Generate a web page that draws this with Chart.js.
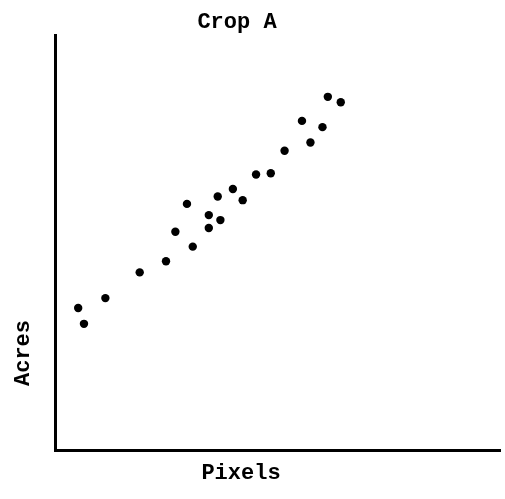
<!DOCTYPE html>
<html>
<head>
<meta charset="utf-8">
<script src="https://cdn.jsdelivr.net/npm/chart.js@4"></script>
<style>
  html, body { margin: 0; padding: 0; background: #fff; }
  #wrap { position: relative; width: 505px; height: 499px; }
  .lbl { position: absolute; font-family: "Liberation Mono", "DejaVu Sans Mono", monospace; font-weight: bold; font-size: 22px; color: #000; line-height: 1; white-space: nowrap; }
  #ttl { left: 237px; top: 12px; transform: translateX(-50%); }
  #xl { left: 241px; top: 463px; transform: translateX(-50%); }
  #yl { left: 24px; top: 353px; transform: translate(-50%, -50%) rotate(-90deg); }
</style>
</head>
<body>
<div id="wrap">
  <canvas id="scatter"></canvas>
  <div class="lbl" id="ttl">Crop A</div>
  <div class="lbl" id="xl">Pixels</div>
  <div class="lbl" id="yl">Acres</div>
</div>
<script>
// values, axes have no ticks so units are 0-100 of the axis length
var pixels = [5.2, 6.5, 11.3, 19.0, 24.9, 27.0, 29.6, 30.9, 34.5, 34.5, 37.1,
              36.5, 39.9, 42.1, 45.1, 48.4, 51.5, 55.4, 57.3, 60.0, 61.2, 64.1];
var acres = [34.2, 30.4, 36.6, 42.8, 45.5, 52.6, 59.3, 49.0, 56.6, 53.5, 55.4,
             61.1, 62.9, 60.2, 66.4, 66.7, 72.1, 79.3, 74.1, 77.8, 85.1, 83.8];

var pts = pixels.map(function (x, i) {
    return { x: x, y: acres[i] };
});

var axisOpts = {
    type: 'linear',
    min: 0,
    max: 100,
    ticks: { display: false },
    grid: { display: false, drawTicks: false },
    border: { display: true, color: '#000', width: 3 }
};

var ctx = document.getElementById('scatter').getContext('2d');
var scatter = new Chart(ctx, {
    type: 'scatter',
    data: {
        datasets: [{
            label: 'Crop A',
            data: pts,
            backgroundColor: '#000',
            borderWidth: 0,
            pointRadius: 4.2,
            pointHoverRadius: 4.2
        }]
    },
    options: {
        responsive: true,
        maintainAspectRatio: false,
        animation: false,
        layout: { padding: { left: 55, right: 1, top: 35, bottom: 49 } },
        plugins: {
            legend: { display: false },
            tooltip: { enabled: false }
        },
        scales: {
            x: axisOpts,
            y: Object.assign({}, axisOpts)
        }
    }
});
</script>
</body>
</html>
